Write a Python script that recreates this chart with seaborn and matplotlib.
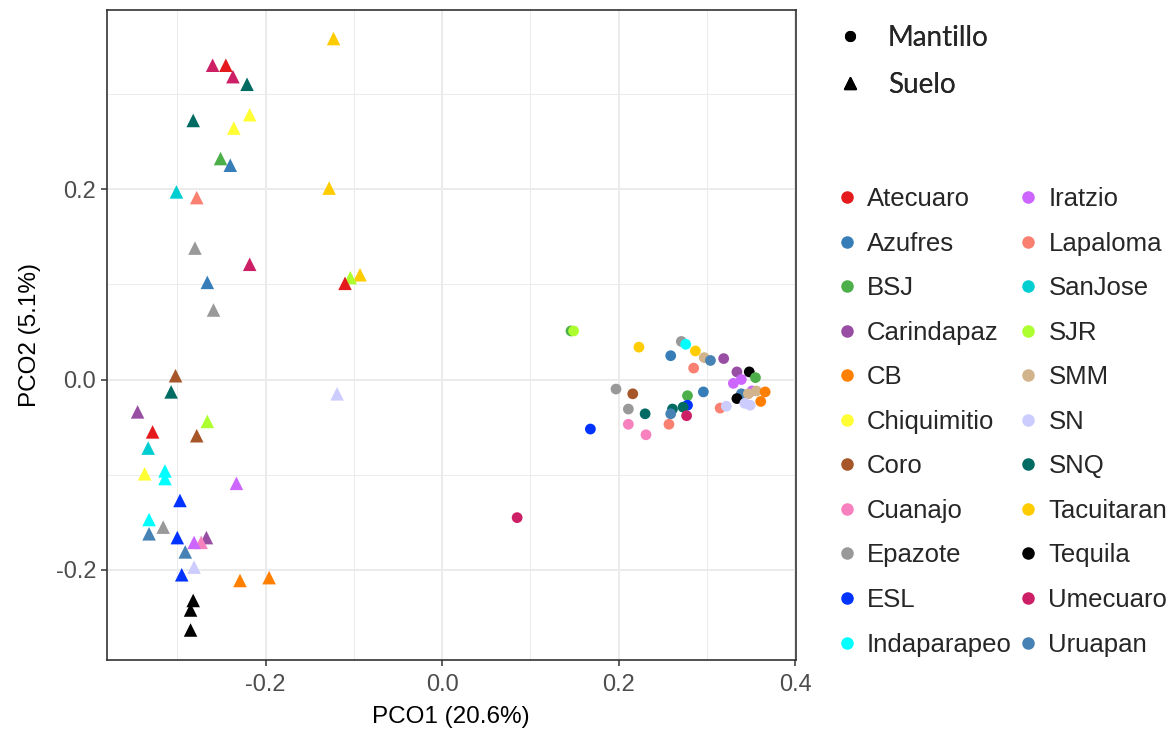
import numpy as np
import pandas as pd
import matplotlib
matplotlib.use("Agg")
import matplotlib.pyplot as plt
from matplotlib.lines import Line2D
import seaborn as sns

# ---------------- data ----------------
sites = ["Atecuaro", "Azufres", "BSJ", "Carindapaz", "CB", "Chiquimitio", "Coro",
         "Cuanajo", "Epazote", "ESL", "Indaparapeo", "Iratzio", "Lapaloma", "SanJose",
         "SJR", "SMM", "SN", "SNQ", "Tacuitaran", "Tequila", "Umecuaro", "Uruapan"]
site_colors = ["#E41A1C", "#377EB8", "#4DAF4A", "#984EA3", "#FF7F00", "#FFFF33", "#A65628",
               "#F781BF", "#999999", "#0033FF", "#00FFFF", "#CC66FF", "#FA8072", "#00CED1",
               "#ADFF2F", "#D2B48C", "#CCCCFF", "#006B63", "#FFCC00", "#000000", "#CC1F66",
               "#4682B4"]
types = ["Mantillo", "Suelo"]

suelo_site = ["Tacuitaran", "Umecuaro", "Atecuaro", "Umecuaro", "SNQ", "SNQ", "Chiquimitio",
              "Chiquimitio", "BSJ", "Azufres", "SanJose", "Lapaloma", "Tacuitaran", "Epazote",
              "Umecuaro", "Azufres", "Epazote", "Tacuitaran", "SJR", "Atecuaro", "Coro", "SNQ",
              "SN", "Carindapaz", "SJR", "Atecuaro", "Coro", "SanJose", "Chiquimitio",
              "Indaparapeo", "Indaparapeo", "Iratzio", "ESL", "Indaparapeo", "Epazote",
              "Uruapan", "ESL", "Carindapaz", "Cuanajo", "Iratzio", "Uruapan", "SN", "ESL",
              "CB", "CB", "Tequila", "Tequila", "Tequila"]
suelo_pco1 = [-0.123, -0.260, -0.245, -0.237, -0.221, -0.282, -0.218, -0.236, -0.251, -0.240,
              -0.301, -0.278, -0.128, -0.280, -0.218, -0.266, -0.259, -0.093, -0.104, -0.110,
              -0.302, -0.307, -0.119, -0.345, -0.266, -0.328, -0.278, -0.333, -0.337, -0.314,
              -0.314, -0.233, -0.297, -0.332, -0.316, -0.332, -0.300, -0.267, -0.273, -0.281,
              -0.291, -0.281, -0.295, -0.229, -0.196, -0.282, -0.285, -0.285]
suelo_pco2 = [0.358, 0.330, 0.330, 0.318, 0.310, 0.272, 0.278, 0.264, 0.232, 0.225,
              0.197, 0.191, 0.201, 0.138, 0.121, 0.102, 0.073, 0.110, 0.107, 0.101,
              0.004, -0.013, -0.015, -0.034, -0.044, -0.055, -0.059, -0.072, -0.099, -0.096,
              -0.104, -0.109, -0.127, -0.147, -0.155, -0.162, -0.166, -0.166, -0.171, -0.171,
              -0.181, -0.197, -0.205, -0.211, -0.208, -0.232, -0.242, -0.263]

mantillo_site = ["BSJ", "SJR", "Tacuitaran", "Epazote", "Indaparapeo", "Tacuitaran", "SMM",
                 "Uruapan", "Azufres", "Carindapaz", "Lapaloma", "Carindapaz", "Tequila", "BSJ",
                 "Iratzio", "Iratzio", "Epazote", "Coro", "Azufres", "Uruapan", "Iratzio", "SMM",
                 "CB", "SMM", "Tequila", "SN", "SN", "CB", "BSJ", "ESL", "SNQ", "SNQ", "Uruapan",
                 "Umecuaro", "Epazote", "SNQ", "Lapaloma", "SN", "Lapaloma", "Cuanajo",
                 "Cuanajo", "ESL", "Umecuaro"]
mantillo_pco1 = [0.146, 0.149, 0.223, 0.271, 0.276, 0.287, 0.297, 0.304, 0.259, 0.319,
                 0.285, 0.334, 0.348, 0.355, 0.339, 0.330, 0.197, 0.216, 0.296, 0.339,
                 0.351, 0.356, 0.366, 0.347, 0.334, 0.343, 0.349, 0.361, 0.278, 0.278,
                 0.273, 0.261, 0.259, 0.277, 0.211, 0.230, 0.315, 0.322, 0.257, 0.211,
                 0.231, 0.168, 0.085]
mantillo_pco2 = [0.051, 0.051, 0.034, 0.040, 0.037, 0.030, 0.023, 0.020, 0.025, 0.022,
                 0.012, 0.008, 0.008, 0.002, 0.000, -0.004, -0.010, -0.015, -0.013, -0.015,
                 -0.012, -0.012, -0.013, -0.015, -0.020, -0.025, -0.027, -0.023, -0.017, -0.027,
                 -0.029, -0.031, -0.036, -0.038, -0.031, -0.036, -0.030, -0.028, -0.047, -0.047,
                 -0.058, -0.052, -0.145]

x_ticks = [-0.2, 0.0, 0.2, 0.4]
y_ticks = [-0.2, 0.0, 0.2]
x_label = "PCO1 (20.6%)"
y_label = "PCO2 (5.1%)"

# ---------------- build ----------------
df_s = pd.DataFrame({"site": suelo_site, "PCO1": suelo_pco1, "PCO2": suelo_pco2, "type": "Suelo"})
df_m = pd.DataFrame({"site": mantillo_site, "PCO1": mantillo_pco1, "PCO2": mantillo_pco2, "type": "Mantillo"})
palette = dict(zip(sites, site_colors))

sns.set_theme(style="white")
plt.rcParams["font.family"] = ["Liberation Sans", "DejaVu Sans"]

fig = plt.figure(figsize=(11.72, 7.30), dpi=100)
ax = fig.add_axes([106.7 / 1172, 1 - 660 / 730, (795.7 - 106.7) / 1172, (660 - 10) / 730])

sns.scatterplot(data=df_s, x="PCO1", y="PCO2", hue="site", hue_order=sites, palette=palette,
                marker="^", s=95, linewidth=0, legend=False, ax=ax, zorder=3)
sns.scatterplot(data=df_m, x="PCO1", y="PCO2", hue="site", hue_order=sites, palette=palette,
                marker="o", s=60, linewidth=0, legend=False, ax=ax, zorder=3)

ax.set_xlim(-0.38, 0.4006)
ax.set_ylim(-0.2945, 0.388)
ax.set_xticks(x_ticks)
ax.set_yticks(y_ticks)
ax.set_xticklabels([f"{v:.1f}" for v in x_ticks])
ax.set_yticklabels([f"{v:.1f}" for v in y_ticks])
ax.set_xticks([-0.3, -0.1, 0.1, 0.3], minor=True)
ax.set_yticks([-0.1, 0.1, 0.3], minor=True)
ax.grid(which="major", color="#EBEBEB", linewidth=1.4, zorder=0)
ax.grid(which="minor", color="#EBEBEB", linewidth=0.7, zorder=0)
ax.set_axisbelow(True)
for sp in ax.spines.values():
    sp.set_color("#333333")
    sp.set_linewidth(1.2)
ax.tick_params(which="major", axis="both", length=4, width=1.1, color="#333333",
               labelsize=17, labelcolor="#4D4D4D", direction="out", bottom=True, left=True)
ax.tick_params(which="major", axis="x", pad=6.0)
ax.tick_params(which="minor", length=0)
ax.set_xlabel(x_label, fontsize=17.5, color="black", labelpad=7)
ax.set_ylabel(y_label, fontsize=17.5, color="black", labelpad=11)

# shape legend
shape_handles = [Line2D([], [], linestyle="none", marker="o", color="black", markersize=7),
                 Line2D([], [], linestyle="none", marker="^", color="black", markersize=9)]
leg1 = fig.legend(shape_handles, types, loc="upper left", bbox_to_anchor=(836 / 1172, 1 - 25 / 730),
                  frameon=False, handlelength=1.0, handletextpad=0.87, labelspacing=0.74,
                  borderpad=0, borderaxespad=0,
                  prop={"family": ["Lato", "DejaVu Sans"], "size": 20})

# colour legend
col_handles = [Line2D([], [], linestyle="none", marker="o", color=c, markersize=8) for c in site_colors]
leg2 = fig.legend(col_handles, sites, loc="upper left", bbox_to_anchor=(836.7 / 1172, 1 - 187 / 730),
                  ncol=2, frameon=False, handlelength=0.8, handletextpad=0.38, labelspacing=0.80,
                  columnspacing=0.24, borderpad=0, borderaxespad=0, prop={"size": 18.5})
fig.add_artist(leg1)

fig.savefig("out.png", dpi=100)
